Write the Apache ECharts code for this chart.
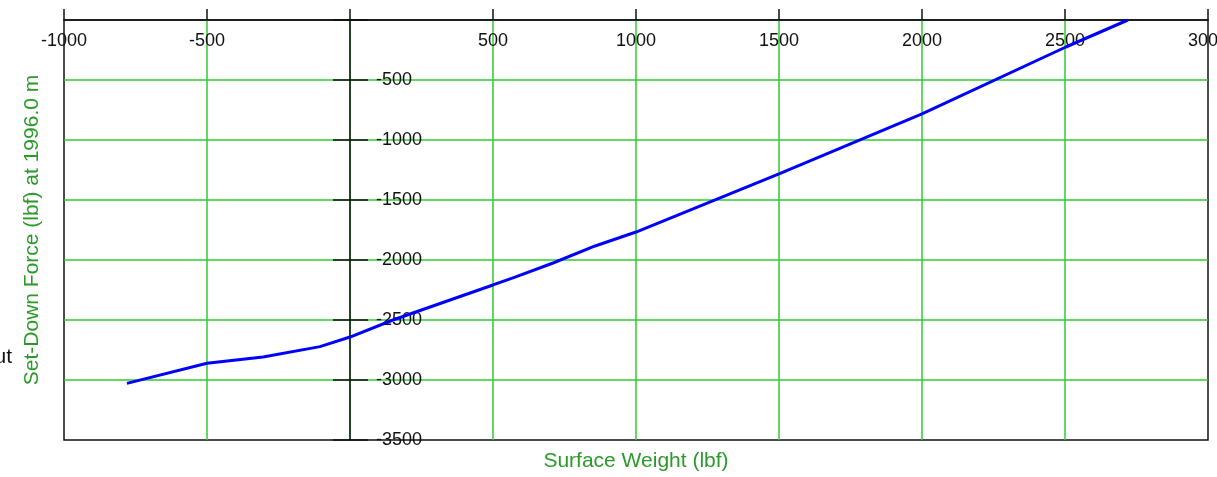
<!DOCTYPE html>
<html>
<head>
<meta charset="utf-8">
<title>Set-Down Force</title>
<script src="https://cdn.jsdelivr.net/npm/echarts@6/dist/echarts.min.js"></script>
<style>
  html, body { margin: 0; padding: 0; background: #fff; }
  #chart { width: 1217px; height: 477px; }
</style>
</head>
<body>
<div id="chart"></div>
<script>
// 数据: surface weight (x) vs set-down force (y), both in lbf
const surfaceWeight = [-780, -500, -304, -105, 0, 150, 500, 577, 710, 857, 1000, 1500, 2000, 2503, 2720];
const setDownForce = [-3028, -2861, -2808, -2722, -2642, -2500, -2208, -2142, -2025, -1883, -1767, -1283, -783, -225, 0];

// axis ranges / steps
const xRange = [-1000, 3000];
const yRange = [-3500, 0];
const xStep = 500;
const yStep = 500;

const xTitle = "Surface Weight (lbf)";
const yTitle = "Set-Down Force (lbf) at 1996.0 m";
const cutText = "ut";

const FONT = "'Liberation Sans', Arial, sans-serif";
const GRID_GREEN = "#2fcc2f";
const TEXT_GREEN = "#2b9a2b";

// plot box
const W = 1217, H = 477;
const G = { left: 64, right: 9, top: 20, bottom: 37 };
const plotW = W - G.left - G.right;

// where x=0 sits, measured from the left / right edge of the plot
const zeroFromLeft = plotW * (0 - xRange[0]) / (xRange[1] - xRange[0]);
const zeroFromRight = plotW - zeroFromLeft;

// hide the 0 label, it sits on the crossing axis
function hideZero(v) {
    return v === 0 ? "" : String(v);
}

const points = surfaceWeight.map((x, i) => [x, setDownForce[i]]);

const chart = echarts.init(document.getElementById("chart"));

chart.setOption({
    animation: false,
    grid: {
        left: G.left, right: G.right, top: G.top, bottom: G.bottom,
        containLabel: false,
        outerBoundsMode: "none",
        show: true,
        borderColor: "#111",
        borderWidth: 1.5
    },
    xAxis: {
        type: "value",
        position: "top",
        min: xRange[0], max: xRange[1], interval: xStep,
        axisLine: { show: true, onZero: false, lineStyle: { color: "#111", width: 1.5 } },
        axisTick: { show: true, length: 11, lineStyle: { color: "#111", width: 1.5 } },
        axisLabel: {
            inside: true, margin: 12, formatter: hideZero,
            color: "#111", fontSize: 18, fontFamily: FONT
        },
        splitLine: {
            show: true, showMinLine: false, showMaxLine: false,
            lineStyle: { color: GRID_GREEN, width: 1.5 }
        }
    },
    yAxis: [
        {
            // labelled half, ticks to the right of x=0
            type: "value",
            position: "right",
            offset: -zeroFromRight,
            min: yRange[0], max: yRange[1], interval: yStep,
            axisLine: { show: true, onZero: false, lineStyle: { color: "#111", width: 1.5 } },
            axisTick: { show: true, length: 18, lineStyle: { color: "#111", width: 1.5 } },
            axisLabel: {
                margin: 26, formatter: hideZero,
                color: "#111", fontSize: 18, fontFamily: FONT
            },
            splitLine: {
                show: true, showMinLine: false, showMaxLine: false,
                lineStyle: { color: GRID_GREEN, width: 1.5 }
            }
        },
        {
            // second half of the crossing ticks, left of x=0
            type: "value",
            position: "left",
            offset: -zeroFromLeft,
            min: yRange[0], max: yRange[1], interval: yStep,
            axisLine: { show: false, onZero: false },
            axisTick: { show: true, length: 17, lineStyle: { color: "#111", width: 1.5 } },
            axisLabel: { show: false },
            splitLine: { show: false }
        }
    ],
    series: [
        {
            type: "line",
            data: points,
            yAxisIndex: 0,
            showSymbol: false,
            symbol: "none",
            clip: true,
            lineStyle: { color: "#0000ff", width: 3 },
            z: 5
        }
    ],
    graphic: [
        {
            type: "text",
            x: G.left + plotW / 2, y: 461,
            style: {
                text: xTitle, align: "center", verticalAlign: "middle",
                fill: TEXT_GREEN, fontSize: 21, fontFamily: FONT
            }
        },
        {
            type: "text",
            x: 32, y: 230,
            rotation: Math.PI / 2,
            style: {
                text: yTitle, align: "center", verticalAlign: "middle",
                fill: TEXT_GREEN, fontSize: 21, fontFamily: FONT
            }
        },
        {
            type: "text",
            x: 12, y: 357,
            style: {
                text: cutText, align: "right", verticalAlign: "middle",
                fill: "#111", fontSize: 21, fontFamily: FONT
            }
        }
    ]
});
</script>
</body>
</html>
